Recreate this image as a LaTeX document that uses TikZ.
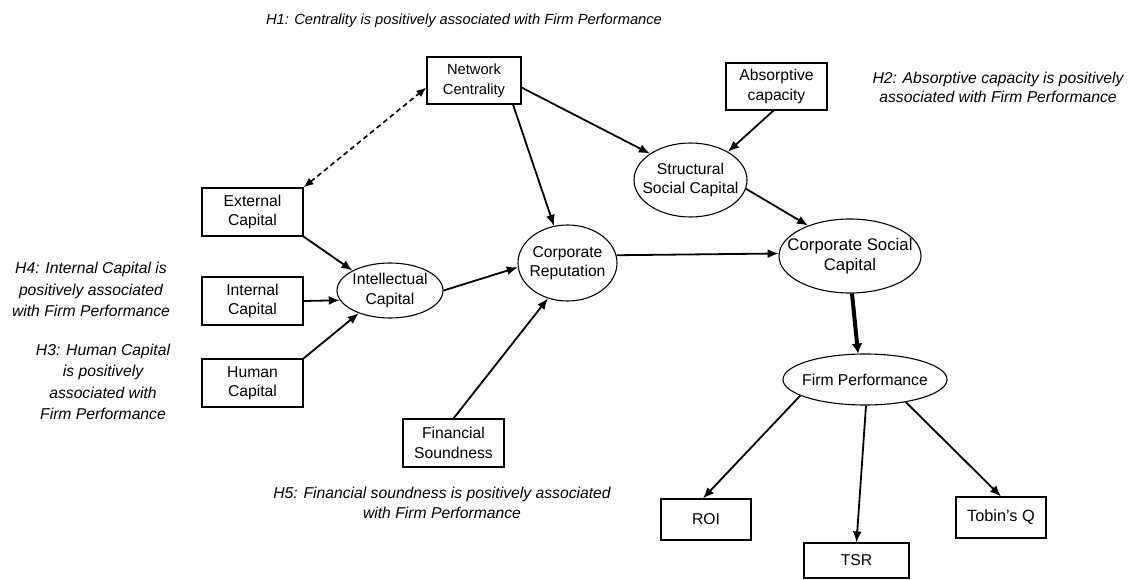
\documentclass[tikz,border=0pt]{standalone}
\usepackage{fontspec}
\setmainfont{Liberation Sans}
\usetikzlibrary{shapes.geometric,arrows.meta}
\newcommand{\zw}[1]{\makebox[0pt]{#1}}
\begin{document}
\begin{tikzpicture}[x=1pt,y=-1pt,
  lbl/.style={font=\fontsize{15.7}{19.5}\selectfont, align=center, inner sep=0pt},
  box/.style={lbl, draw, rectangle, line width=1.1pt},
  oval/.style={lbl, draw, ellipse, line width=1.1pt},
  hyp/.style={font=\itshape\fontsize{15.7}{21.3}\selectfont, align=center, inner sep=0pt},
  arr/.style={line width=1.8pt, -{Latex[length=11pt,width=9pt]}},
  thickarr/.style={line width=4pt, -{Latex[length=10pt,width=11pt]}},
  dasharr/.style={line width=1.6pt, dash pattern=on 5pt off 3.5pt, {Latex[length=10pt,width=8pt]}-{Latex[length=10pt,width=8pt]}},
]
\useasboundingbox (0,0) rectangle (1130,580);

% boxes
\node[box, minimum width=94pt, minimum height=47pt, font=\fontsize{14.7}{19.5}\selectfont] (nc) at (474,80.5) {Network\\Centrality};
\node[box, minimum width=101pt, minimum height=47pt] (ac) at (776.5,86.5) {Absorptive\\capacity};
\node[box, minimum width=101pt, minimum height=48pt] (ec) at (252.5,212) {External\\Capital};
\node[box, minimum width=101pt, minimum height=48pt] (inc) at (252.5,301) {Internal\\Capital};
\node[box, minimum width=101pt, minimum height=48pt] (hc) at (252.5,383) {Human\\Capital};
\node[box, minimum width=101pt, minimum height=48pt] (fs) at (453.5,443) {Financial\\Soundness};
\node[box, minimum width=90pt, minimum height=41pt] (roi) at (706,519.5) {ROI};
\node[box, minimum width=105pt, minimum height=35pt] (tsr) at (856.5,560.5) {TSR};
\node[box, minimum width=90pt, minimum height=41pt, font=\fontsize{16.3}{19.5}\selectfont] (tq) at (1001,517.5) {Tobin’s Q};

% ellipses
\node[oval, minimum width=106pt, minimum height=55pt] (ic) at (390,290.5) {\zw{Intellectual}\\\zw{Capital}};
\node[oval, minimum width=99pt, minimum height=76pt] (cr) at (567.5,263) {\zw{Corporate}\\\zw{Reputation}};
\node[oval, minimum width=113pt, minimum height=74pt] (ssc) at (690.5,180) {\zw{Structural}\\\zw{Social Capital}};
\node[oval, minimum width=142pt, minimum height=74pt, font=\fontsize{16.8}{20}\selectfont] (csc) at (850,256) {\zw{Corporate Social}\\\zw{Capital}};
\node[oval, minimum width=164pt, minimum height=51pt] (fp) at (865,379.5) {\zw{Firm Performance}};

% hypotheses
\node[hyp, font=\itshape\fontsize{14.7}{20}\selectfont] (h1) at (464,21) {H1: Centrality is positively associated with Firm Performance};
\node[hyp, font=\itshape\fontsize{15.7}{19}\selectfont] (h2) at (998,87.5) {H2: Absorptive capacity is positively\\associated with Firm Performance};
\node[hyp] (h4) at (91,289.5) {H4: Internal Capital is\\positively associated\\with Firm Performance};
\node[hyp] (h3) at (103,382) {H3: Human Capital\\is positively\\associated with\\Firm Performance};
\node[hyp, font=\itshape\fontsize{15.7}{20}\selectfont] (h5) at (442,503) {H5: Financial soundness is positively associated\\with Firm Performance};

% connectors
\draw[arr] ([yshift=-7pt]nc.east) -- (ssc.147);
\draw[arr] ([xshift=-3pt]ac.south) -- (ssc.37);
\draw[arr] ([xshift=39pt]nc.south) -- (cr.110);
\draw[dasharr] (ec.north east) -- ([yshift=-7pt]nc.west);
\draw[arr] (ec.south east) -- (ic.152);
\draw[arr] (inc.east) -- (ic.191);
\draw[arr] (hc.north east) -- (ic.216);
\draw[arr] (ic.east) -- (cr.185);
\draw[arr] (fs.north) -- (cr.241);
\draw[arr] (cr.9) -- (csc.178);
\draw[arr] (ssc.-9) -- (csc.144);
\draw[thickarr] ([xshift=2pt]csc.south) -- (fp.105);
\draw[arr] (fp.194) -- ([xshift=-3pt]roi.north);
\draw[arr] ([xshift=1pt]fp.south) -- (tsr.north);
\draw[arr] (fp.-29) -- (tq.north);
\end{tikzpicture}
\end{document}
